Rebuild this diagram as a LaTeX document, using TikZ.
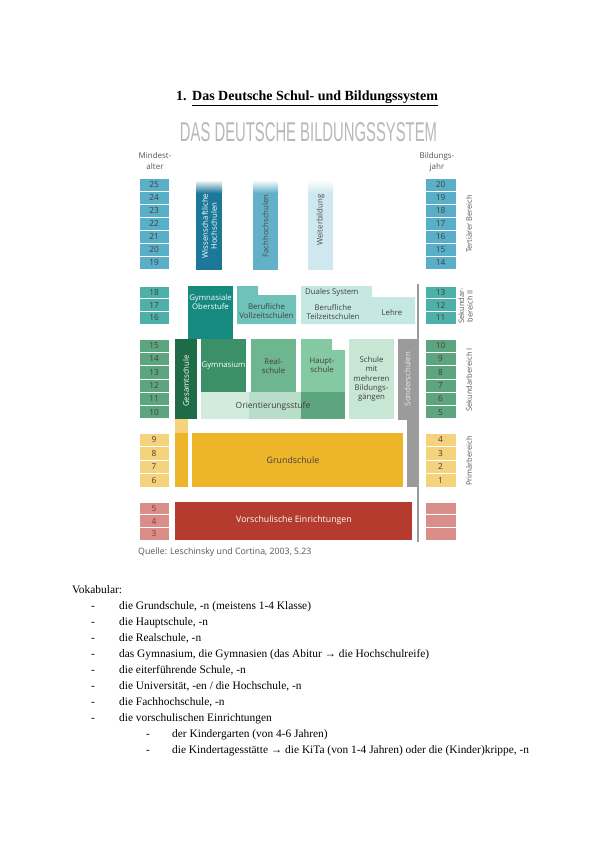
\documentclass[tikz,border=0pt]{standalone}
\usepackage{fontspec}
\setmainfont{Liberation Serif}
\newfontfamily\dsans{Open Sans}
\newfontfamily\tsans{Liberation Sans}
\definecolor{tertc}{HTML}{5AAFC8}
\definecolor{wissc}{HTML}{1B7898}
\definecolor{fachc}{HTML}{62B1C9}
\definecolor{weitc}{HTML}{CFE8EF}
\definecolor{sekIIc}{HTML}{4DB0AA}
\definecolor{gymobc}{HTML}{168A7E}
\definecolor{vollc}{HTML}{6EC2BA}
\definecolor{dualc}{HTML}{C5E8E4}
\definecolor{sekIc}{HTML}{5DA57E}
\definecolor{gesc}{HTML}{1E6B47}
\definecolor{gymc}{HTML}{3B9068}
\definecolor{realc}{HTML}{6DB68F}
\definecolor{hauptc}{HTML}{85C9A3}
\definecolor{mehrc}{HTML}{C7E7D4}
\definecolor{orientc}{HTML}{D3EBDD}
\definecolor{orientbc}{HTML}{B8DDC8}
\definecolor{primc}{HTML}{F5D27C}
\definecolor{grundc}{HTML}{EDB52A}
\definecolor{vorc}{HTML}{DA8E8A}
\definecolor{vorschc}{HTML}{B43B2D}
\definecolor{sonderc}{HTML}{9B9B9B}
\definecolor{labc}{HTML}{555555}
\tikzset{
  numcell/.style={rectangle, draw=white, line width=0.8pt, minimum width=30pt,
    minimum height=13pt, inner sep=0pt, text=black!75,
    font=\dsans\fontsize{8.3}{9}\selectfont},
  blocktext/.style={inner sep=0pt, align=center, font=\dsans\fontsize{7.8}{9}\selectfont},
  sidelabel/.style={inner sep=0pt, align=center, text=labc, font=\dsans\fontsize{7.5}{8.5}\selectfont},
  bodytext/.style={anchor=base west, inner sep=0pt, font=\fontsize{11.4}{13}\selectfont},
}
\begin{document}
\begin{tikzpicture}[x=1pt,y=-1pt]
\useasboundingbox (0,0) rectangle (600,848);
\fill[white] (0,0) rectangle (600,848);

% page title
\node[anchor=base west, inner sep=0pt, font=\bfseries\fontsize{14}{16}\selectfont] (title) at (176,101)
  {1.\hspace{5.5pt}\underline{Das Deutsche Schul- und Bildungssystem}};

% diagram title
\node[inner sep=0pt, text=gray!55] (dtitle) at (308.5,132)
  {\resizebox{257pt}{19pt}{\tsans DAS DEUTSCHE BILDUNGSSYSTEM}};

\node[sidelabel, font=\dsans\fontsize{8}{11.5}\selectfont] (mind) at (155,161) {Mindest-\\alter};
\node[sidelabel, font=\dsans\fontsize{8}{11.5}\selectfont] (bjahr) at (437,162) {Bildungs-\\jahr};

% ---------- number columns ----------
\foreach \n [count=\i from 0] in {25,24,...,19}
  \node[numcell, fill=tertc] (L\n) at (154,{178+13*\i+6.5}) {\n};
\foreach \n [count=\i from 0] in {20,19,...,14}
  \node[numcell, fill=tertc, minimum width=31pt] (R\n) at (440.5,{178+13*\i+6.5}) {\n};

\foreach \n [count=\i from 0] in {18,17,16}
  \node[numcell, fill=sekIIc, minimum height=12.7pt] (L\n) at (154,{286+12.7*\i+6.35}) {\n};
\foreach \n [count=\i from 0] in {13,12,11}
  \node[numcell, fill=sekIIc, minimum height=12.7pt, minimum width=31pt] (R\n) at (440.5,{286+12.7*\i+6.35}) {\n};

\foreach \n [count=\i from 0] in {15,14,...,10}
  \node[numcell, fill=sekIc, minimum height=13.3pt] (LS\n) at (154,{339+13.3*\i+6.65}) {\n};
\foreach \n [count=\i from 0] in {10,9,...,5}
  \node[numcell, fill=sekIc, minimum height=13.3pt, minimum width=31pt] (RS\n) at (440.5,{339+13.3*\i+6.65}) {\n};

\foreach \n [count=\i from 0] in {9,8,7,6}
  \node[numcell, fill=primc, minimum height=13.5pt] (LP\n) at (154,{433+13.5*\i+6.75}) {\n};
\foreach \n [count=\i from 0] in {4,3,2,1}
  \node[numcell, fill=primc, minimum height=13.5pt, minimum width=31pt] (RP\n) at (440.5,{433+13.5*\i+6.75}) {\n};

\foreach \n [count=\i from 0] in {5,4,3}
  \node[numcell, fill=vorc, minimum height=12.7pt, text=vorschc!80!black] (LV\n) at (154,{502+12.7*\i+6.35}) {\n};
\foreach \i in {0,1,2}
  \node[numcell, fill=vorc, minimum height=12.7pt, minimum width=31pt] (RV\i) at (440.5,{502+12.7*\i+6.35}) {};

% ---------- tertiary ----------
\shade[top color=white, bottom color=wissc] (196,180) rectangle (222,193);
\fill[wissc] (196,192.5) rectangle (222,270);
\node[blocktext, rotate=90, text=white] (wiss) at (209.5,226) {Wissenschaftliche\\Hochschulen};

\shade[top color=white, bottom color=fachc] (253,180) rectangle (278,193);
\fill[fachc] (253,192.5) rectangle (278,270);
\node[blocktext, rotate=90, text=black!70] (fach) at (265.5,226) {Fachhochschulen};

\shade[top color=white, bottom color=weitc] (308,180) rectangle (333,193);
\fill[weitc] (308,192.5) rectangle (333,270);
\node[blocktext, rotate=90, text=black!70] (weit) at (320.5,220) {Weiterbildung};

% ---------- Sekundarbereich II ----------
\fill[gymobc] (188,286) rectangle (233,339);
\node[blocktext, text=white] (gymob) at (210.5,302) {Gymnasiale\\Oberstufe};

\fill[vollc] (237,286) -- (258,286) -- (258,295) -- (296,295) -- (296,324) -- (237,324) -- cycle;
\node[blocktext, text=black!75] (voll) at (266.5,311) {Berufliche\\Vollzeitschulen};

\fill[dualc] (301,286) -- (372,286) -- (372,297) -- (415,297) -- (415,324) -- (301,324) -- cycle;
\node[blocktext, anchor=west, text=black!75] (dual) at (305,292) {Duales System};
\node[blocktext, text=black!75] (teil) at (333,312) {Berufliche\\Teilzeitschulen};
\node[blocktext, text=black!75] (lehre) at (392,313) {Lehre};

% ---------- Sonderschulen ----------
\fill[sonderc] (416.5,284) rectangle (419,542);
\fill[sonderc] (398,339) rectangle (417,420);
\fill[sonderc] (407,420) rectangle (417,487);
\node[blocktext, rotate=90, text=white!85!gray] (sonder) at (407.5,379) {Sonderschulen};

% ---------- Sekundarbereich I ----------
\fill[gesc] (175,339) rectangle (197,419);
\node[blocktext, rotate=90, text=white] (ges) at (186,381) {Gesamtschule};

\fill[gymc] (201,339) rectangle (246,392);
\node[blocktext, text=white] (gym) at (223.5,366) {Gymnasium};

\fill[realc] (251,339) rectangle (296,392);
\node[blocktext, text=black!75] (real) at (273.5,366) {Real-\\schule};

\fill[hauptc] (301,339) -- (332,339) -- (332,350) -- (345,350) -- (345,392) -- (301,392) -- cycle;
\node[blocktext, text=black!75] (haupt) at (322,365) {Haupt-\\schule};

\fill[orientc] (201,392) rectangle (249,419);
\fill[orientbc] (249,392) rectangle (301,419);
\fill[sekIc] (301,392) rectangle (345,419);
\node[blocktext, text=black!75, font=\dsans\fontsize{8.5}{9}\selectfont] (orient) at (273,406) {Orientierungsstufe};

\fill[mehrc] (349,339) rectangle (394,419);
\node[blocktext, text=black!75, font=\dsans\fontsize{7.8}{9.2}\selectfont] (mehr) at (371.5,379) {Schule\\mit\\mehreren\\Bildungs-\\gängen};

% ---------- Primarbereich ----------
\fill[primc] (175,419) rectangle (188,433);
\fill[grundc] (175,433) rectangle (188,487);
\fill[grundc] (192,433) rectangle (403,487);
\node[blocktext, text=black!75, font=\dsans\fontsize{8.8}{9}\selectfont] (grund) at (293,460) {Grundschule};

% ---------- Vorschule ----------
\fill[vorschc] (175,502) rectangle (412,540);
\node[blocktext, text=white, font=\dsans\fontsize{8.8}{9}\selectfont] (vorsch) at (294,520) {Vorschulische Einrichtungen};

\node[blocktext, anchor=west, text=labc, font=\dsans\fontsize{8.8}{9}\selectfont] (quelle) at (138,552) {Quelle: Leschinsky und Cortina, 2003, S.23};

% right side labels
\node[sidelabel, rotate=90] (tert) at (469,224) {Tertiärer Bereich};
\node[sidelabel, rotate=90] (sekII) at (465.5,306) {Sekundar-\\bereich II};
\node[sidelabel, rotate=90] (sekI) at (469,380) {Sekundarbereich I};
\node[sidelabel, rotate=90] (prim) at (469,461) {Primärbereich};

% ---------- Vokabular ----------
\node[bodytext] (vok) at (72,593) {Vokabular:};
\foreach \t [count=\i] in {
  {die Grundschule, -n (meistens 1-4 Klasse)},
  {die Hauptschule, -n},
  {die Realschule, -n},
  {das Gymnasium, die Gymnasien (das Abitur → die Hochschulreife)},
  {die eiterführende Schule, -n},
  {die Universität, -en / die Hochschule, -n},
  {die Fachhochschule, -n},
  {die vorschulischen Einrichtungen}}
{
  \node[bodytext] (d\i) at (91,{593+16*\i}) {-};
  \node[bodytext] (v\i) at (119,{593+16*\i}) {\t};
}
\node[bodytext] (sd1) at (146,737) {-};
\node[bodytext] (sv1) at (172,737) {der Kindergarten (von 4-6 Jahren)};
\node[bodytext] (sd2) at (146,753) {-};
\node[bodytext] (sv2) at (172,753) {die Kindertagesstätte → die KiTa (von 1-4 Jahren) oder die (Kinder)krippe, -n};
\end{tikzpicture}
\end{document}
